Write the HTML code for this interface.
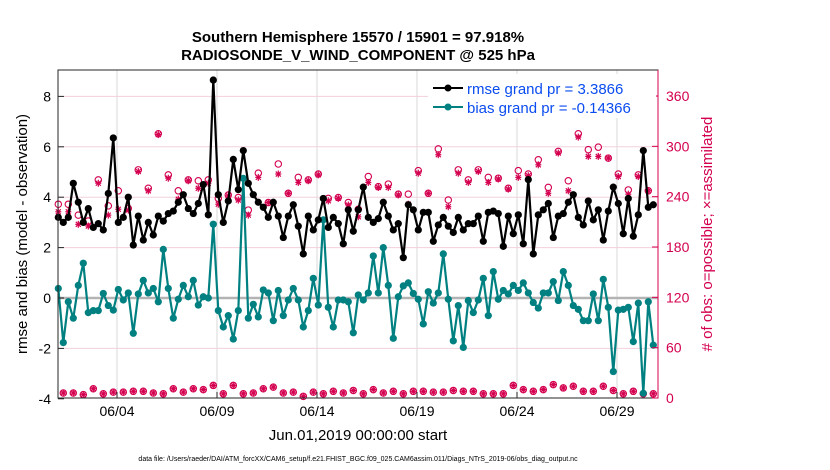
<!DOCTYPE html>
<html><head><meta charset="utf-8"><style>
html,body{margin:0;padding:0;background:#fff;}
svg{display:block;font-family:"Liberation Sans",Arial,sans-serif;}
</style></head><body>
<svg id="chart" width="830" height="470" viewBox="0 0 830 470">
<text x="358" y="42" text-anchor="middle" font-size="15" font-weight="bold">Southern Hemisphere 15570 / 15901 = 97.918%</text>
<text x="358" y="60" text-anchor="middle" font-size="15" font-weight="bold">RADIOSONDE_V_WIND_COMPONENT @ 525 hPa</text>
<g id="grid"></g>
<g id="marks"></g>
<rect x="58" y="70" width="600" height="328" fill="none" stroke="#262626" stroke-width="1"/>
<line x1="658" y1="70" x2="658" y2="398" stroke="#d4004f" stroke-width="1"/>
<g id="axes"></g>
<text transform="translate(27,234) rotate(-90)" text-anchor="middle" font-size="15">rmse and bias (model - observation)</text>
<text transform="translate(712,234) rotate(-90)" text-anchor="middle" font-size="15" fill="#d4004f"># of obs: o=possible; ×=assimilated</text>
<text x="358" y="440" text-anchor="middle" font-size="15">Jun.01,2019 00:00:00 start</text>
<text x="358" y="461" text-anchor="middle" font-size="7">data file: /Users/raeder/DAI/ATM_forcXX/CAM6_setup/f.e21.FHIST_BGC.f09_025.CAM6assim.011/Diags_NTrS_2019-06/obs_diag_output.nc</text>
<g>
<rect x="428" y="74" width="228" height="44" fill="#fff"/>
<line x1="433" y1="88" x2="463" y2="88" stroke="#000" stroke-width="2"/>
<circle cx="448" cy="88" r="3.5" fill="#000"/>
<text x="467" y="94" font-size="15" fill="#0b4cf0">rmse grand pr = 3.3866</text>
<line x1="433" y1="107" x2="463" y2="107" stroke="#008080" stroke-width="2"/>
<circle cx="448" cy="107" r="3.5" fill="#008080"/>
<text x="467" y="113" font-size="15" fill="#0b4cf0">bias grand pr = -0.14366</text>
</g>
</svg>
<script>
const rmse=[3.2,3.0,3.2,4.55,3.8,3.0,3.55,2.8,2.95,2.7,4.15,6.35,3.0,3.2,4.0,2.1,3.25,2.3,3.0,2.5,3.25,3.05,3.35,3.45,3.8,4.1,3.55,3.35,3.75,4.5,3.3,
8.65,4.1,3.0,3.85,5.5,4.3,5.85,4.55,4.1,3.8,3.6,3.2,3.8,3.25,2.4,3.25,3.7,2.85,1.75,3.25,2.7,3.1,3.95,2.8,3.2,2.95,2.15,3.5,2.65,
3.5,4.4,3.2,3.0,3.15,3.8,3.25,2.7,2.95,1.6,3.7,3.5,2.7,3.4,3.4,2.25,2.9,3.2,2.85,2.6,3.2,2.7,2.95,2.95,3.25,2.25,3.4,3.45,3.35,2.05,
3.25,2.55,3.3,2.15,4.7,1.75,3.3,3.5,3.75,2.4,3.25,3.35,3.8,4.1,3.2,2.9,3.85,3.1,3.5,2.3,3.45,4.4,3.75,2.55,3.95,2.45,3.3,5.85,3.6,3.7];
const bias=[0.38,-1.77,-0.15,-0.8,0.5,1.38,-0.58,-0.5,-0.5,0.18,-0.3,-0.48,0.34,-0.08,0.2,-1.4,0.16,0.7,0.2,0.38,-0.15,1.93,0.38,-0.8,-0.05,0.5,0.05,0.7,-0.28,0.05,0.0,
2.93,-0.5,-1.15,-0.7,-1.63,-0.5,4.75,-0.8,-0.25,-0.75,0.32,0.2,-0.9,0.3,-0.7,-0.08,0.38,-0.08,-1.15,-0.5,0.78,-0.28,3.1,-0.37,-1.15,-0.08,-0.08,-0.15,-1.38,
0.12,-0.08,0.2,1.67,0.2,2.0,0.5,-1.6,0.05,0.48,0.6,0.18,-0.05,-1.03,0.25,-0.2,0.2,1.75,-0.05,-1.7,-0.3,-1.96,-0.1,-0.58,-0.08,0.78,-0.7,1.05,-0.05,0.3,
0.16,0.5,0.3,0.6,0.2,-0.18,-0.4,0.2,0.2,0.65,-0.1,1.05,0.5,-0.3,-0.45,-0.9,-0.9,0.16,-0.9,0.74,-0.37,-2.92,-0.48,-0.45,-0.37,-1.73,-0.2,-3.78,-0.15,-1.87];
const possibleHigh=[231,231,218,211,260,229,247,226,272,250,315,266,247,260,259,260,
238,242,239,224,268,233,279,244,263,260,267,238,239,233,225,
264,252,255,243,243,271,244,297,236,272,260,272,263,262,250,
271,267,284,251,294,259,315,296,299,286,267,248,266,247];
const assimHigh=[222,222,207,205,256,218,225,224,270,247,314,262,237,259,250,256,
231,241,236,218,263,233,267,244,257,259,266,235,238,230,216,
257,251,251,242,231,268,244,290,228,268,257,270,257,261,249,
263,265,278,244,292,247,311,288,288,286,264,243,264,247];
const countLow=[6,6,4,11,5,7,7,8,8,6,5,11,7,11,10,
15,5,15,5,6,11,13,6,7,2,7,5,8,6,9,
5,10,6,8,5,8,8,7,7,9,8,8,5,5,5,
15,10,8,10,16,12,14,8,8,14,9,5,8,5,5];
const leftTicks=[-4,-2,0,2,4,6,8];
const rightTicks=[0,60,120,180,240,300,360];
const dateTicks=["06/04","06/09","06/14","06/19","06/24","06/29"];
const dateTickDays=[3,8,13,18,23,28];

const NS="http://www.w3.org/2000/svg";
const X0=57, DAYPX=20;
function xDay(d){return X0+d*DAYPX;}
function xIdx(i){return xDay(0.065+0.25*i);}
function yL(v){return 298-v*25.2;}
function yR(c){return 398-c*0.8389;}
function mk(tag,attrs,parent){const e=document.createElementNS(NS,tag);for(const k in attrs)e.setAttribute(k,attrs[k]);parent.appendChild(e);return e;}
const grid=document.getElementById('grid'),marks=document.getElementById('marks'),axes=document.getElementById('axes');

dateTickDays.forEach((d,k)=>{
  const l=mk('line',{x1:xDay(d),x2:xDay(d),y1:70,y2:398,stroke:'#d9d9d9','stroke-width':1},grid);
  
  
  const t=mk('line',{x1:xDay(d),x2:xDay(d),y1:398,y2:392,stroke:'#262626'},axes);
  
  
  const tx=mk('text',{x:xDay(d),y:416,'text-anchor':'middle','font-size':14},axes);
  tx.textContent=dateTicks[k];
  
  
});
leftTicks.forEach(v=>{
  if(v!==0&&v!==-4){
    const g=mk('line',{x1:58,x2:658,y1:yL(v),y2:yL(v),stroke:'#f2d0dd','stroke-width':1},grid);
    
    
  }
  const t=mk('line',{x1:58,x2:64,y1:yL(v),y2:yL(v),stroke:'#262626'},axes);
  
  
  const tx=mk('text',{x:51,y:yL(v)+5,'text-anchor':'end','font-size':14},axes);
  tx.textContent=String(v);
  
  
});
rightTicks.forEach(c=>{
  const t=mk('line',{x1:652,x2:658,y1:yR(c),y2:yR(c),stroke:'#d4004f'},axes);
  
  
  const tx=mk('text',{x:666,y:yR(c)+5,'font-size':14,fill:'#d4004f'},axes);
  tx.textContent=String(c);
  
  
});
const zl=mk('line',{x1:58,x2:658,y1:yL(0),y2:yL(0),stroke:'#b3b3b3','stroke-width':2.5},grid);



// obs counts
function star(x,y,parent,name){
  const g=mk('g',{stroke:'#d4004f','stroke-width':1.2},parent);
  
  
  mk('line',{x1:x-3,x2:x+3,y1:y,y2:y},g);
  mk('line',{x1:x,x2:x,y1:y-3.5,y2:y+3.5},g);
  mk('line',{x1:x-2.5,x2:x+2.5,y1:y-2.5,y2:y+2.5},g);
  mk('line',{x1:x-2.5,x2:x+2.5,y1:y+2.5,y2:y-2.5},g);
}
possibleHigh.forEach((c,k)=>{
  const i=k*2;
  const o=mk('circle',{cx:xIdx(i),cy:yR(c),r:3.2,fill:'none',stroke:'#d4004f','stroke-width':1.1},marks);
  
  
  star(xIdx(i),yR(assimHigh[k]),marks,'assimilated-obs-point');
});
countLow.forEach((c,k)=>{
  const i=k*2+1;
  const o=mk('circle',{cx:xIdx(i),cy:yR(c),r:3.2,fill:'none',stroke:'#d4004f','stroke-width':1.1},marks);
  
  
  star(xIdx(i),yR(c),marks,'assimilated-obs-point');
});

function series(vals,color,name){
  const p=mk('polyline',{points:vals.map((v,i)=>xIdx(i).toFixed(1)+','+yL(v).toFixed(1)).join(' '),fill:'none',stroke:color,'stroke-width':2.2,'stroke-linejoin':'round'},marks);
  
  
  vals.forEach((v,i)=>{
    const c=mk('circle',{cx:xIdx(i),cy:yL(v),r:3.6,fill:color},marks);
    
    
  });
}
series(bias,'#008080','bias');
series(rmse,'#000000','rmse');
</script>
</body></html>
